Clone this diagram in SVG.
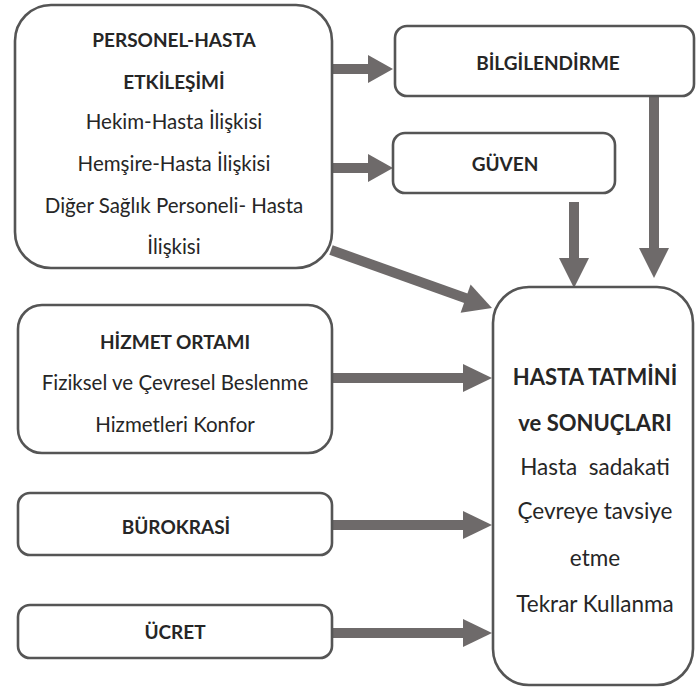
<svg xmlns="http://www.w3.org/2000/svg" width="697" height="691" viewBox="0 0 697 691">
<defs>
<style>
.box{fill:#fff;stroke:#555;stroke-width:2.6}
.t{font-family:Lato,"Open Sans","Liberation Sans",sans-serif;fill:#262626;text-anchor:middle}
.b{font-weight:bold;font-size:19px}
.r{font-size:20.5px}
.bb{font-weight:bold;font-size:22px}
.rb{font-size:22.5px}
.sh{stroke:#6e6a6a;stroke-width:10;fill:none}
.hd{fill:#6e6a6a}
</style>
</defs>
<rect width="697" height="691" fill="#fff"/>
<g id="connectors">
<line class="sh" x1="332" y1="69" x2="370" y2="69"/>
<polygon class="hd" points="368,55 393,69 368,83"/>
<line class="sh" x1="332" y1="168" x2="370" y2="168"/>
<polygon class="hd" points="368,154 393,168 368,182"/>
<line class="sh" x1="574" y1="202" x2="574" y2="260"/>
<polygon class="hd" points="559,258 589,258 574,288"/>
<line class="sh" x1="654" y1="97" x2="654" y2="250"/>
<polygon class="hd" points="639,248 669,248 654,278"/>
<line class="sh" x1="331" y1="250" x2="468" y2="299"/>
<polygon class="hd" points="470.6,284.5 492,308 460.6,312.7"/>
<line class="sh" x1="332" y1="378" x2="466" y2="378"/>
<polygon class="hd" points="463,364 492,378 463,392"/>
<line class="sh" x1="332" y1="525" x2="466" y2="525"/>
<polygon class="hd" points="463,511 492,525 463,539"/>
<line class="sh" x1="332" y1="633" x2="466" y2="633"/>
<polygon class="hd" points="463,619 492,633 463,647"/>
</g>
<g id="personel">
<rect class="box" x="15" y="5" width="317" height="263" rx="36"/>
<text class="t b" x="174" y="47">PERSONEL-HASTA</text>
<text class="t b" x="174" y="89">ETKİLEŞİMİ</text>
<text class="t r" x="174" y="129">Hekim-Hasta İlişkisi</text>
<text class="t r" x="174" y="171">Hemşire-Hasta İlişkisi</text>
<text class="t r" x="174" y="213">Diğer Sağlık Personeli- Hasta</text>
<text class="t r" x="174" y="254">İlişkisi</text>
</g>
<g id="bilgilendirme">
<rect class="box" x="395" y="26" width="299" height="70" rx="12"/>
<text class="t b" x="548" y="70">BİLGİLENDİRME</text>
</g>
<g id="guven">
<rect class="box" x="393" y="133" width="222" height="60" rx="12"/>
<text class="t b" x="505" y="171">GÜVEN</text>
</g>
<g id="hizmet">
<rect class="box" x="18" y="305" width="314" height="148" rx="24"/>
<text class="t b" x="175" y="349">HİZMET ORTAMI</text>
<text class="t r" x="175" y="390">Fiziksel ve Çevresel Beslenme</text>
<text class="t r" x="175" y="432">Hizmetleri Konfor</text>
</g>
<g id="burokrasi">
<rect class="box" x="18" y="493" width="314" height="62" rx="12"/>
<text class="t b" x="176" y="534">BÜROKRASİ</text>
</g>
<g id="ucret">
<rect class="box" x="18" y="605" width="314" height="53" rx="12"/>
<text class="t b" x="175" y="639">ÜCRET</text>
</g>
<g id="hasta-tatmini">
<rect class="box" x="493" y="287" width="200" height="398" rx="36"/>
<text class="t bb" x="595" y="385">HASTA TATMİNİ</text>
<text class="t bb" x="595" y="431">ve SONUÇLARI</text>
<text class="t rb" x="595" y="475" xml:space="preserve">Hasta  sadakati</text>
<text class="t rb" x="595" y="519">Çevreye tavsiye</text>
<text class="t rb" x="595" y="566">etme</text>
<text class="t rb" x="595" y="612">Tekrar Kullanma</text>
</g>
</svg>
